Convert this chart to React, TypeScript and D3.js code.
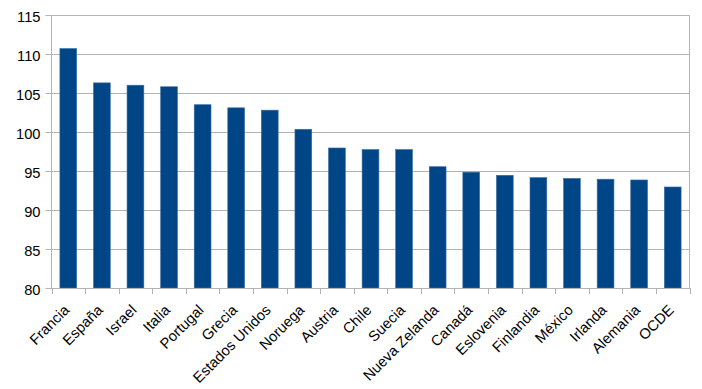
import React from "react";
import * as d3 from "d3";

const categories = [
  "Francia", "España", "Israel", "Italia", "Portugal", "Grecia", "Estados Unidos",
  "Noruega", "Austria", "Chile", "Suecia", "Nueva Zelanda", "Canadá", "Eslovenia",
  "Finlandia", "México", "Irlanda", "Alemania", "OCDE",
];
const values = [
  110.7, 106.3, 106.0, 105.8, 103.5, 103.1, 102.8,
  100.35, 97.95, 97.75, 97.75, 95.55, 94.85, 94.45,
  94.15, 94.05, 93.95, 93.85, 92.95,
];
const yTicks = [80, 85, 90, 95, 100, 105, 110, 115];

const W = 702;
const H = 389;
const left = 51.5;
const right = 689.5;
const top = 15;
const bottom = 288;

export default function App() {
  const x = d3.scaleBand<string>().domain(categories).range([left, right]).paddingInner(0.5).paddingOuter(0.25);
  const band = d3.scaleBand<string>().domain(categories).range([left, right]);
  const y = d3.scaleLinear().domain([80, 115]).range([bottom, top]);
  const font = "'Liberation Sans', Arial, sans-serif";
  const grid = "#b3b3b3";
  const fs = 14.7;
  return (
    <svg width={W} height={H} style={{ position: "absolute", left: 0, top: 0, background: "#fff" }}>
      {yTicks.map((t) => (
        <g key={t}>
          <line x1={left - 6} x2={right} y1={Math.round(y(t)) + 0.5} y2={Math.round(y(t)) + 0.5} stroke={grid} strokeWidth={1} />
          <text x={40.5} y={Math.round(y(t)) + 0.5} dy="0.42em" textAnchor="end" fontFamily={font} fontSize={fs} fill="#000">{t}</text>
        </g>
      ))}
      {categories.map((c, i) => (
        <rect key={c} x={x(c)!} y={y(values[i])} width={x.bandwidth()} height={bottom - y(values[i])} fill="#004586" stroke="#3a6ea5" strokeWidth={0.6} />
      ))}
      <line x1={left} x2={left} y1={top} y2={bottom + 0.5} stroke={grid} />
      <line x1={right} x2={right} y1={top} y2={bottom + 0.5} stroke={grid} />
      <line x1={left} x2={right} y1={bottom + 0.5} y2={bottom + 0.5} stroke={grid} />
      {categories.concat(["__end"]).map((c, i) => {
        const xx = Math.round(left + band.step() * i) + 0.5;
        return <line key={"t" + i} x1={xx} x2={xx} y1={bottom} y2={bottom + 6} stroke={grid} />;
      })}
      {categories.map((c) => {
        const cx = band(c)! + band.bandwidth() / 2 + 2;
        const cy = 311;
        return (
          <text key={"l" + c} x={cx} y={cy} transform={`rotate(-45 ${cx} ${cy})`} textAnchor="end" fontFamily={font} fontSize={fs} fill="#000">{c}</text>
        );
      })}
    </svg>
  );
}
